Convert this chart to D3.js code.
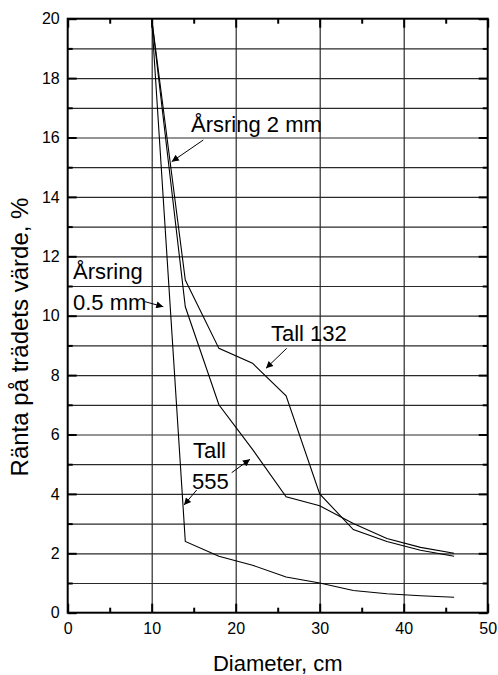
<!DOCTYPE html>
<html>
<head>
<meta charset="utf-8">
<title>Ränta på trädets värde</title>
<script src="https://d3js.org/d3.v7.min.js"></script>
<style>
body { margin: 0; background: #fff; }
text { font-family: "Liberation Sans", Arial, sans-serif; fill: #000; }
.grid line { stroke: #2a2a2a; stroke-width: 1.2; }
.grid .domain { stroke: none; }
.ticks .domain { stroke: none; }
.ticks line { stroke: #000; stroke-width: 2; }
.ticklab .domain, .ticklab line { stroke: none; }
.ticklab text { font-size: 16px; }
</style>
</head>
<body>
<svg id="chart" width="498" height="675"></svg>
<script>

// data
const diameters = [10, 14, 18, 22, 26, 30, 34, 38, 42, 46];
const tall132 = [20, 11.2, 8.9, 8.4, 7.3, 4.0, 2.8, 2.4, 2.1, 1.9];
const tall555 = [20, 10.3, 7.0, 5.5, 3.9, 3.6, 3.0, 2.5, 2.2, 2.0];
const arsring05 = [20, 2.4, 1.9, 1.6, 1.2, 1.0, 0.75, 0.64, 0.57, 0.52];
const xTicks = [0, 10, 20, 30, 40, 50];
const yTicks = [0, 2, 4, 6, 8, 10, 12, 14, 16, 18, 20];

const svg = d3.select("svg#chart");
const width = +svg.attr("width");
const height = +svg.attr("height");
const margin = {top: 18.7, right: 10.3, bottom: 62.3, left: 67.7};
const chartWidth = width - margin.left - margin.right;
const chartHeight = height - margin.top - margin.bottom;

const chart = svg.append("g").attr("transform", `translate(${margin.left},${margin.top})`);

const x = d3.scaleLinear().domain([0, 50]).range([0, chartWidth]);
const y = d3.scaleLinear().domain([0, 20]).range([chartHeight, 0]);

const yMinor = d3.range(1, 20, 2);
const xMinor = d3.range(5, 50, 10);

// gridlines
chart.append("g").attr("class", "grid")
  .call(d3.axisLeft(y).tickValues(d3.range(1, 20)).tickSize(-chartWidth).tickFormat(""));
chart.append("g").attr("class", "grid")
  .call(d3.axisBottom(x).tickValues([10, 20, 30, 40]).tickSize(chartHeight).tickFormat(""));

// inward ticks on all four sides
function ticks(axis, vals, size, tr) {
  chart.append("g").attr("class", "ticks").attr("transform", tr)
    .call(axis.tickValues(vals).tickSize(size).tickFormat(""));
}
ticks(d3.axisBottom(x), xTicks, -9, `translate(0,${chartHeight})`);
ticks(d3.axisBottom(x), xMinor, -5, `translate(0,${chartHeight})`);
ticks(d3.axisTop(x), xTicks, -9, "translate(0,0)");
ticks(d3.axisTop(x), xMinor, -5, "translate(0,0)");
ticks(d3.axisLeft(y), yTicks, -9, "translate(0,0)");
ticks(d3.axisLeft(y), yMinor, -5, "translate(0,0)");
ticks(d3.axisRight(y), yTicks, -9, `translate(${chartWidth},0)`);
ticks(d3.axisRight(y), yMinor, -5, `translate(${chartWidth},0)`);

// tick labels
chart.append("g").attr("class", "ticklab")
  .attr("transform", `translate(0,${chartHeight})`)
  .call(d3.axisBottom(x).tickValues(xTicks).tickSize(0).tickPadding(10));
chart.append("g").attr("class", "ticklab")
  .call(d3.axisLeft(y).tickValues(yTicks).tickSize(0).tickPadding(8));

// frame
chart.append("rect")
  .attr("width", chartWidth).attr("height", chartHeight)
  .attr("fill", "none").attr("stroke", "#000").attr("stroke-width", 2);

// lines
const line = d3.line().x((d, i) => x(diameters[i])).y(d => y(d));
[tall132, tall555, arsring05].forEach(s => {
  chart.append("path").datum(s)
    .attr("fill", "none").attr("stroke", "#000").attr("stroke-width", 1.1)
    .attr("d", line);
});

// axis titles
svg.append("text")
  .attr("text-anchor", "middle")
  .attr("x", margin.left + chartWidth / 2)
  .attr("y", 671)
  .style("font-size", "22px")
  .text("Diameter, cm");

svg.append("text")
  .attr("text-anchor", "middle")
  .attr("transform", "translate(28,337) rotate(-90)")
  .style("font-size", "24px")
  .text("Ränta på trädets värde, %");

// annotations
svg.append("defs").append("marker")
  .attr("id", "arrow").attr("viewBox", "0 0 10 10")
  .attr("refX", 10).attr("refY", 5)
  .attr("markerWidth", 11).attr("markerHeight", 7)
  .attr("markerUnits", "userSpaceOnUse")
  .attr("orient", "auto")
  .append("path").attr("d", "M0,0L10,5L0,10z").attr("fill", "#000");

const labels = [
  {t: "Årsring 2 mm", x: 191, y: 131.7},
  {t: "Årsring", x: 73, y: 279.3},
  {t: "0.5 mm", x: 73, y: 310},
  {t: "Tall 132", x: 271, y: 341},
  {t: "Tall", x: 193, y: 458.3},
  {t: "555", x: 192, y: 489.3}
];
labels.forEach(l => {
  svg.append("text").attr("x", l.x).attr("y", l.y)
    .style("font-size", "22px").text(l.t);
});

const arrows = [
  [203.3, 140, 171.7, 161.7],
  [145, 301.7, 163.3, 306.7],
  [286.7, 348.3, 266, 368.3],
  [196.7, 490, 184, 505],
  [231.7, 472.7, 250, 459.3]
];
arrows.forEach(a => {
  svg.append("line")
    .attr("x1", a[0]).attr("y1", a[1]).attr("x2", a[2]).attr("y2", a[3])
    .attr("stroke", "#000").attr("stroke-width", 1)
    .attr("marker-end", "url(#arrow)");
});

</script>
</body>
</html>
